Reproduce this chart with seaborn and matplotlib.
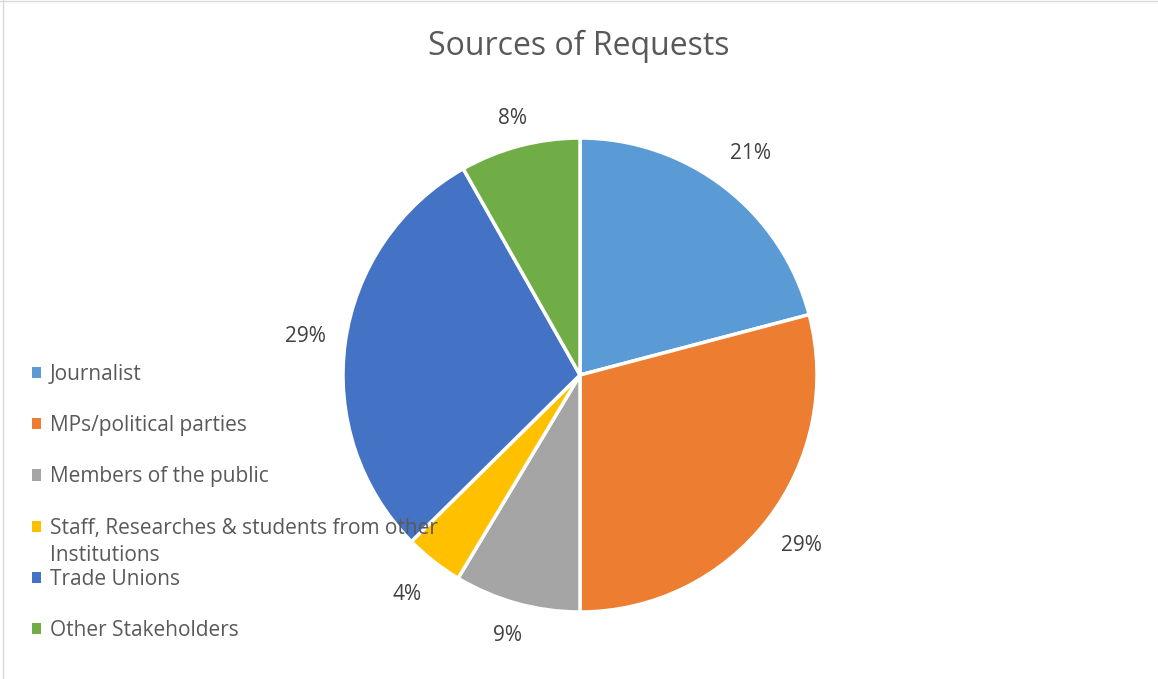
import matplotlib
matplotlib.use("Agg")
import numpy as np
import matplotlib.pyplot as plt
import seaborn as sns
from matplotlib.lines import Line2D

# ==== data
sources = ['Journalist', 'MPs/political parties', 'Members of the public',
           'Staff, Researches & students from other Institutions',
           'Trade Unions', 'Other Stakeholders']
shares = [20.9, 29.1, 8.6, 4.0, 29.2, 8.2]
colours = ['#5B9BD5', '#ED7D31', '#A5A5A5', '#FFC000', '#4472C4', '#70AD47']
title = 'Sources of Requests'

sns.set_theme(style='white')
plt.rcParams['font.family'] = ['Open Sans', 'DejaVu Sans']

W, H = 1158, 679
cx, cy, R = 580, 375, 237  # pie centre / radius in pixels

fig = plt.figure(figsize=(W / 100, H / 100), dpi=100)
ax = fig.add_axes([0, 0, 1, 1])

wedges, texts, autotexts = ax.pie(
    shares, colors=sns.color_palette(colours), startangle=90, counterclock=False,
    autopct='%.0f%%', pctdistance=1.17,
    wedgeprops=dict(edgecolor='white', linewidth=2.5),
    textprops=dict(color='#404040', fontsize=15))

# excel-ish label distances (a bit closer for the small top/bottom slices)
label_r = [1.18, 1.18, 1.14, 1.18, 1.17, 1.12]
for w, t, r in zip(wedges, autotexts, label_r):
    a = np.deg2rad((w.theta1 + w.theta2) / 2)
    t.set_position((r * np.cos(a), r * np.sin(a)))

ax.set_xlim(-cx / R, (W - cx) / R)
ax.set_ylim(-(H - cy) / R, cy / R)
ax.set_aspect('auto')
ax.axis('off')

fig.text(0.5, 1 - 46 / H, title, ha='center', va='center', fontsize=23, color='#595959')

# legend (wrapped second line of the long label added afterwards)
leg_labels = list(sources)
leg_labels[3] = 'Staff, Researches & students from other'
leg = ax.legend(wedges, leg_labels, loc='upper left', bbox_to_anchor=(32 / W, 1 - 364 / H),
                bbox_transform=fig.transFigure, frameon=False, fontsize=15,
                handlelength=0.45, handleheight=0.45, handletextpad=0.4,
                labelspacing=1.45, borderpad=0, borderaxespad=0)
for t in leg.get_texts():
    t.set_color('#595959')
for h in leg.legend_handles:
    h.set_edgecolor('none')

fig.canvas.draw()
bb = leg.get_texts()[3].get_window_extent()
fig.text(bb.x0 / W, (bb.y0 - 27) / H, 'Institutions', ha='left', va='bottom',
         fontsize=15, color='#595959')

# thin chart frame (top and left edge)
fig.add_artist(Line2D([0, 1], [1 - 1 / H, 1 - 1 / H], transform=fig.transFigure, color='#d9d9d9', lw=1))
fig.add_artist(Line2D([2.5 / W, 2.5 / W], [0, 1], transform=fig.transFigure, color='#d9d9d9', lw=1))

fig.savefig('out.png', dpi=100)
